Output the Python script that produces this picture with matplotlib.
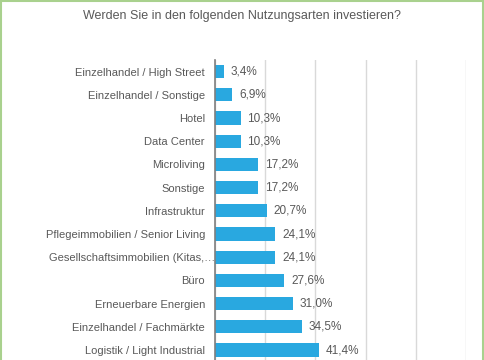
import matplotlib
matplotlib.use("Agg")
import matplotlib.pyplot as plt
import matplotlib.transforms as mtransforms
from matplotlib.patches import Rectangle

title = "Werden Sie in den folgenden Nutzungsarten investieren?"
categories = [
    "Einzelhandel / High Street",
    "Einzelhandel / Sonstige",
    "Hotel",
    "Data Center",
    "Microliving",
    "Sonstige",
    "Infrastruktur",
    "Pflegeimmobilien / Senior Living",
    "Gesellschaftsimmobilien (Kitas,…",
    "Büro",
    "Erneuerbare Energien",
    "Einzelhandel / Fachmärkte",
    "Logistik / Light Industrial",
]
values = [3.4, 6.9, 10.3, 10.3, 17.2, 17.2, 20.7, 24.1, 24.1, 27.6, 31.0, 34.5, 41.4]
value_labels = ["3,4%", "6,9%", "10,3%", "10,3%", "17,2%", "17,2%", "20,7%",
                "24,1%", "24,1%", "27,6%", "31,0%", "34,5%", "41,4%"]
xticks = [0, 20, 40, 60, 80, 100]

W, H = 485, 360
fig = plt.figure(figsize=(W / 100, H / 100), dpi=100)
fig.patch.set_facecolor("white")
plt.rcParams["font.family"] = ["Liberation Sans", "DejaVu Sans"]

text_color = "#595959"
bar_color = "#29A8E0"

# green frame
fig.patches.append(Rectangle((1.5 / W, -0.1), (482 / W), 1.1 - 1.5 / H,
                             transform=fig.transFigure, fill=False,
                             edgecolor="#A9D18E", linewidth=1.5))

fig.text(242 / W, 1 - 16 / H, title, ha="center", va="center",
         fontsize=9, color=text_color)

ax = fig.add_axes([215 / W, 0, (466 - 215) / W, 1 - 60 / H])
ypos = list(range(len(categories)))
ax.barh(ypos, values, height=0.57, color=bar_color, zorder=3)
ax.set_xlim(0, 100)
ax.set_ylim(12.43, -0.5)
ax.set_xticks(xticks)
ax.tick_params(axis="x", bottom=False, labelbottom=False)
ax.xaxis.grid(True, color="#D9D9D9", linewidth=1)
ax.set_axisbelow(True)
for s in ["top", "right", "bottom"]:
    ax.spines[s].set_visible(False)
ax.spines["left"].set_color("#7F7F7F")
ax.spines["left"].set_linewidth(1.2)
ax.spines["left"].set_zorder(4)
ax.set_yticks(ypos)
ax.set_yticklabels(categories, fontsize=8, color=text_color)
ax.tick_params(axis="y", length=0, pad=7.2)

# the truncated label sits closer to the axis
lbl = ax.get_yticklabels()[8]
lbl.set_transform(lbl.get_transform() + mtransforms.ScaledTranslation(10 / 100, 0, fig.dpi_scale_trans))

for y, v, t in zip(ypos, values, value_labels):
    ax.annotate(t, (v, y), xytext=(4.8, 0), textcoords="offset points",
                va="center", ha="left", fontsize=8.5, color=text_color)

fig.savefig("out.png", dpi=100, facecolor="white")
